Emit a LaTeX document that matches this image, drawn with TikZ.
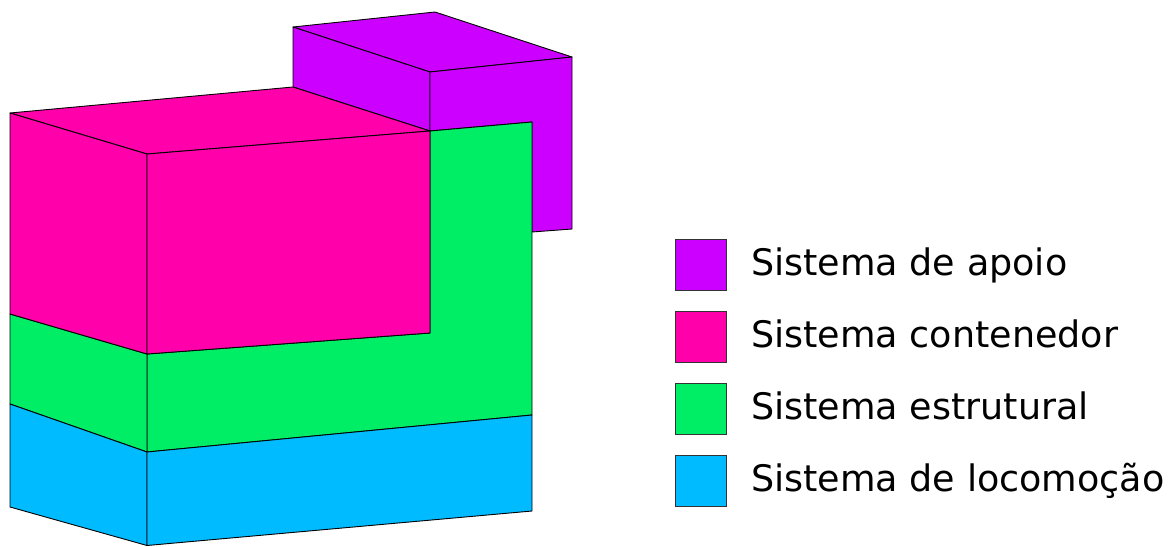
\documentclass[tikz,border=0pt]{standalone}
\usepackage{fontspec}
\setmainfont{DejaVu Sans}
\definecolor{apoio}{RGB}{204,0,255}
\definecolor{contenedor}{RGB}{255,0,170}
\definecolor{estrutural}{RGB}{0,238,102}
\definecolor{locomocao}{RGB}{0,187,255}
\begin{document}
\begin{tikzpicture}[x=1pt,y=-1pt,
  face/.style={draw=black, line width=0.9pt, line join=round},
  key/.style={draw=black!80, line width=0.9pt, minimum size=51pt, inner sep=0pt},
  keytext/.style={anchor=base west, inner sep=0pt, font=\fontsize{36.5}{40}\selectfont}]
\useasboundingbox (0,0) rectangle (1174,546);

% support box at the back
\filldraw[face, fill=apoio] (293,27) -- (435,12) -- (572,57) -- (430,72) -- cycle;
\filldraw[face, fill=apoio] (293,27) -- (430,72) -- (430,131) -- (293,87) -- cycle;
\filldraw[face, fill=apoio] (430,72) -- (572,57) -- (572,229) -- (532,232) -- (532,122) -- (430,131) -- cycle;

% structural layer
\filldraw[face, fill=estrutural] (147,354) -- (430,333) -- (430,131) -- (532,122) -- (532,415) -- (147,452) -- cycle;
\filldraw[face, fill=estrutural] (10,314) -- (147,354) -- (147,452) -- (10,404) -- cycle;

% container block
\filldraw[face, fill=contenedor] (10,113) -- (293,87) -- (430,131) -- (147,154) -- cycle;
\filldraw[face, fill=contenedor] (10,113) -- (147,154) -- (147,354) -- (10,314) -- cycle;
\filldraw[face, fill=contenedor] (147,154) -- (430,131) -- (430,333) -- (147,354) -- cycle;

% locomotion base
\filldraw[face, fill=locomocao] (10,404) -- (147,452) -- (147,545.5) -- (10,507) -- cycle;
\filldraw[face, fill=locomocao] (147,452) -- (532,415) -- (532,511) -- (147,545.5) -- cycle;

% legend
\node[key, fill=apoio]      (k1) at (700.5,265) {};
\node[key, fill=contenedor] (k2) at (700.5,337) {};
\node[key, fill=estrutural] (k3) at (700.5,409) {};
\node[key, fill=locomocao]  (k4) at (700.5,480.5) {};
\node[keytext] (t1) at (751,275) {Sistema de apoio};
\node[keytext] (t2) at (751,347) {Sistema contenedor};
\node[keytext] (t3) at (751,419) {Sistema estrutural};
\node[keytext] (t4) at (751,491) {Sistema de locomoção};
\end{tikzpicture}
\end{document}
